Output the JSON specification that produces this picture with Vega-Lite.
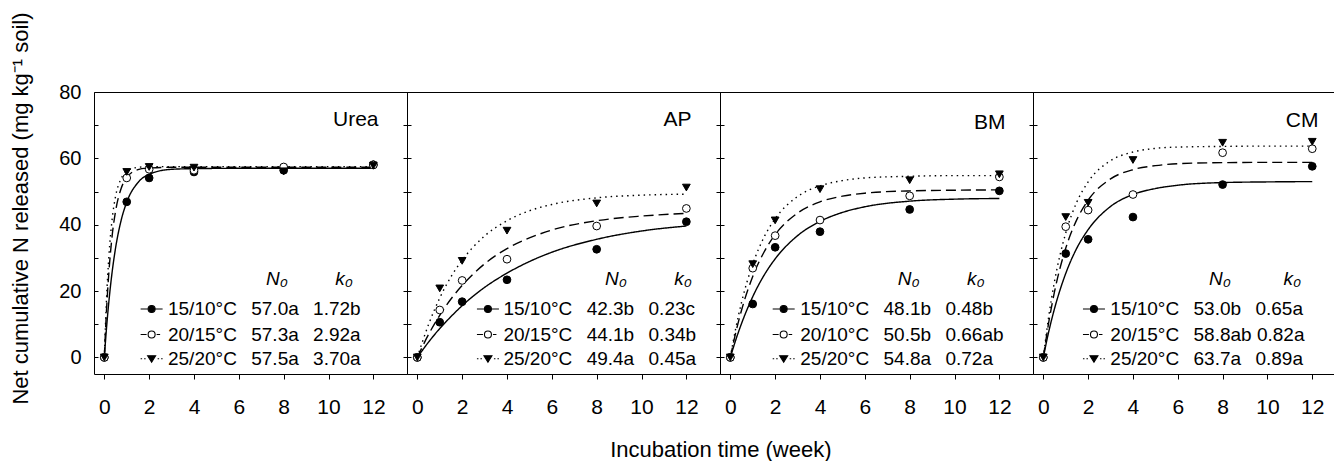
{
  "$schema": "https://vega.github.io/schema/vega-lite/v6.json",
  "padding": {"left": 9, "top": 11, "right": 0, "bottom": 0},
  "background": "white",
  "title": {"text": "Incubation time (week)", "orient": "bottom", "anchor": "middle", "frame": "bounds", "fontSize": 22, "fontWeight": "normal", "font": "Liberation Sans", "color": "black", "baseline": "top", "offset": 22, "dx": 49},
  "datasets": {
    "points": [
      {"panel": "Urea", "temp": "15/10", "t": 0, "N": 0}, {"panel": "Urea", "temp": "15/10", "t": 1, "N": 46.9}, {"panel": "Urea", "temp": "15/10", "t": 2, "N": 54.1}, {"panel": "Urea", "temp": "15/10", "t": 4, "N": 55.9}, {"panel": "Urea", "temp": "15/10", "t": 8, "N": 56.4}, {"panel": "Urea", "temp": "15/10", "t": 12, "N": 58.1},
      {"panel": "Urea", "temp": "20/15", "t": 0, "N": 0}, {"panel": "Urea", "temp": "20/15", "t": 1, "N": 54.1}, {"panel": "Urea", "temp": "20/15", "t": 2, "N": 56.7}, {"panel": "Urea", "temp": "20/15", "t": 4, "N": 56.4}, {"panel": "Urea", "temp": "20/15", "t": 8, "N": 57.4}, {"panel": "Urea", "temp": "20/15", "t": 12, "N": 58.0},
      {"panel": "Urea", "temp": "25/20", "t": 0, "N": 0}, {"panel": "Urea", "temp": "25/20", "t": 1, "N": 55.9}, {"panel": "Urea", "temp": "25/20", "t": 2, "N": 57.4}, {"panel": "Urea", "temp": "25/20", "t": 4, "N": 57.2}, {"panel": "Urea", "temp": "25/20", "t": 8, "N": 56.1}, {"panel": "Urea", "temp": "25/20", "t": 12, "N": 57.8},
      {"panel": "AP", "temp": "15/10", "t": 0, "N": 0}, {"panel": "AP", "temp": "15/10", "t": 1, "N": 10.6}, {"panel": "AP", "temp": "15/10", "t": 2, "N": 16.8}, {"panel": "AP", "temp": "15/10", "t": 4, "N": 23.4}, {"panel": "AP", "temp": "15/10", "t": 8, "N": 32.6}, {"panel": "AP", "temp": "15/10", "t": 12, "N": 40.9},
      {"panel": "AP", "temp": "20/15", "t": 0, "N": 0}, {"panel": "AP", "temp": "20/15", "t": 1, "N": 14.3}, {"panel": "AP", "temp": "20/15", "t": 2, "N": 23.2}, {"panel": "AP", "temp": "20/15", "t": 4, "N": 29.6}, {"panel": "AP", "temp": "20/15", "t": 8, "N": 39.6}, {"panel": "AP", "temp": "20/15", "t": 12, "N": 44.9},
      {"panel": "AP", "temp": "25/20", "t": 0, "N": 0}, {"panel": "AP", "temp": "25/20", "t": 1, "N": 20.8}, {"panel": "AP", "temp": "25/20", "t": 2, "N": 29.1}, {"panel": "AP", "temp": "25/20", "t": 4, "N": 38.2}, {"panel": "AP", "temp": "25/20", "t": 8, "N": 46.4}, {"panel": "AP", "temp": "25/20", "t": 12, "N": 51.2},
      {"panel": "BM", "temp": "15/10", "t": 0, "N": 0}, {"panel": "BM", "temp": "15/10", "t": 1, "N": 16.1}, {"panel": "BM", "temp": "15/10", "t": 2, "N": 33.2}, {"panel": "BM", "temp": "15/10", "t": 4, "N": 37.9}, {"panel": "BM", "temp": "15/10", "t": 8, "N": 44.6}, {"panel": "BM", "temp": "15/10", "t": 12, "N": 50.2},
      {"panel": "BM", "temp": "20/15", "t": 0, "N": 0}, {"panel": "BM", "temp": "20/15", "t": 1, "N": 26.9}, {"panel": "BM", "temp": "20/15", "t": 2, "N": 36.7}, {"panel": "BM", "temp": "20/15", "t": 4, "N": 41.4}, {"panel": "BM", "temp": "20/15", "t": 8, "N": 48.7}, {"panel": "BM", "temp": "20/15", "t": 12, "N": 54.4},
      {"panel": "BM", "temp": "25/20", "t": 0, "N": 0}, {"panel": "BM", "temp": "25/20", "t": 1, "N": 28.1}, {"panel": "BM", "temp": "25/20", "t": 2, "N": 41.3}, {"panel": "BM", "temp": "25/20", "t": 4, "N": 50.7}, {"panel": "BM", "temp": "25/20", "t": 8, "N": 53.4}, {"panel": "BM", "temp": "25/20", "t": 12, "N": 55.2},
      {"panel": "CM", "temp": "15/10", "t": 0, "N": 0}, {"panel": "CM", "temp": "15/10", "t": 1, "N": 31.3}, {"panel": "CM", "temp": "15/10", "t": 2, "N": 35.6}, {"panel": "CM", "temp": "15/10", "t": 4, "N": 42.3}, {"panel": "CM", "temp": "15/10", "t": 8, "N": 52.1}, {"panel": "CM", "temp": "15/10", "t": 12, "N": 57.6},
      {"panel": "CM", "temp": "20/15", "t": 0, "N": 0}, {"panel": "CM", "temp": "20/15", "t": 1, "N": 39.4}, {"panel": "CM", "temp": "20/15", "t": 2, "N": 44.4}, {"panel": "CM", "temp": "20/15", "t": 4, "N": 49.1}, {"panel": "CM", "temp": "20/15", "t": 8, "N": 61.7}, {"panel": "CM", "temp": "20/15", "t": 12, "N": 62.9},
      {"panel": "CM", "temp": "25/20", "t": 0, "N": 0}, {"panel": "CM", "temp": "25/20", "t": 1, "N": 42.3}, {"panel": "CM", "temp": "25/20", "t": 2, "N": 46.6}, {"panel": "CM", "temp": "25/20", "t": 4, "N": 59.5}, {"panel": "CM", "temp": "25/20", "t": 8, "N": 64.7}, {"panel": "CM", "temp": "25/20", "t": 12, "N": 65.0}
    ],
    "curves": [
      {"panel": "Urea", "temp": "15/10", "t": 0, "N": 0}, {"panel": "Urea", "temp": "15/10", "t": 0.1, "N": 9.0}, {"panel": "Urea", "temp": "15/10", "t": 0.2, "N": 16.6}, {"panel": "Urea", "temp": "15/10", "t": 0.35, "N": 25.8}, {"panel": "Urea", "temp": "15/10", "t": 0.5, "N": 32.9}, {"panel": "Urea", "temp": "15/10", "t": 0.75, "N": 41.3}, {"panel": "Urea", "temp": "15/10", "t": 1, "N": 46.8}, {"panel": "Urea", "temp": "15/10", "t": 1.5, "N": 52.7}, {"panel": "Urea", "temp": "15/10", "t": 2, "N": 55.2}, {"panel": "Urea", "temp": "15/10", "t": 3, "N": 56.7}, {"panel": "Urea", "temp": "15/10", "t": 4, "N": 56.9}, {"panel": "Urea", "temp": "15/10", "t": 6, "N": 57.0}, {"panel": "Urea", "temp": "15/10", "t": 12, "N": 57.0},
      {"panel": "Urea", "temp": "20/15", "t": 0, "N": 0}, {"panel": "Urea", "temp": "20/15", "t": 0.1, "N": 14.5}, {"panel": "Urea", "temp": "20/15", "t": 0.2, "N": 25.3}, {"panel": "Urea", "temp": "20/15", "t": 0.35, "N": 36.7}, {"panel": "Urea", "temp": "20/15", "t": 0.5, "N": 44.0}, {"panel": "Urea", "temp": "20/15", "t": 0.75, "N": 50.9}, {"panel": "Urea", "temp": "20/15", "t": 1, "N": 54.2}, {"panel": "Urea", "temp": "20/15", "t": 1.5, "N": 56.6}, {"panel": "Urea", "temp": "20/15", "t": 2, "N": 57.1}, {"panel": "Urea", "temp": "20/15", "t": 3, "N": 57.3}, {"panel": "Urea", "temp": "20/15", "t": 12, "N": 57.3},
      {"panel": "Urea", "temp": "25/20", "t": 0, "N": 0}, {"panel": "Urea", "temp": "25/20", "t": 0.1, "N": 17.8}, {"panel": "Urea", "temp": "25/20", "t": 0.2, "N": 30.1}, {"panel": "Urea", "temp": "25/20", "t": 0.35, "N": 41.7}, {"panel": "Urea", "temp": "25/20", "t": 0.5, "N": 48.5}, {"panel": "Urea", "temp": "25/20", "t": 0.75, "N": 53.9}, {"panel": "Urea", "temp": "25/20", "t": 1, "N": 56.1}, {"panel": "Urea", "temp": "25/20", "t": 1.5, "N": 57.3}, {"panel": "Urea", "temp": "25/20", "t": 2, "N": 57.5}, {"panel": "Urea", "temp": "25/20", "t": 12, "N": 57.5},
      {"panel": "AP", "temp": "15/10", "t": 0, "N": 0}, {"panel": "AP", "temp": "15/10", "t": 0.5, "N": 4.6}, {"panel": "AP", "temp": "15/10", "t": 1, "N": 8.7}, {"panel": "AP", "temp": "15/10", "t": 1.5, "N": 12.3}, {"panel": "AP", "temp": "15/10", "t": 2, "N": 15.6}, {"panel": "AP", "temp": "15/10", "t": 3, "N": 21.1}, {"panel": "AP", "temp": "15/10", "t": 4, "N": 25.4}, {"panel": "AP", "temp": "15/10", "t": 5, "N": 28.9}, {"panel": "AP", "temp": "15/10", "t": 6, "N": 31.7}, {"panel": "AP", "temp": "15/10", "t": 8, "N": 35.6}, {"panel": "AP", "temp": "15/10", "t": 10, "N": 38.1}, {"panel": "AP", "temp": "15/10", "t": 12, "N": 39.6},
      {"panel": "AP", "temp": "20/15", "t": 0, "N": 0}, {"panel": "AP", "temp": "20/15", "t": 0.5, "N": 6.9}, {"panel": "AP", "temp": "20/15", "t": 1, "N": 12.7}, {"panel": "AP", "temp": "20/15", "t": 1.5, "N": 17.6}, {"panel": "AP", "temp": "20/15", "t": 2, "N": 21.7}, {"panel": "AP", "temp": "20/15", "t": 3, "N": 28.2}, {"panel": "AP", "temp": "20/15", "t": 4, "N": 32.8}, {"panel": "AP", "temp": "20/15", "t": 5, "N": 36.0}, {"panel": "AP", "temp": "20/15", "t": 6, "N": 38.4}, {"panel": "AP", "temp": "20/15", "t": 8, "N": 41.2}, {"panel": "AP", "temp": "20/15", "t": 10, "N": 42.6}, {"panel": "AP", "temp": "20/15", "t": 12, "N": 43.4},
      {"panel": "AP", "temp": "25/20", "t": 0, "N": 0}, {"panel": "AP", "temp": "25/20", "t": 0.5, "N": 9.9}, {"panel": "AP", "temp": "25/20", "t": 1, "N": 17.9}, {"panel": "AP", "temp": "25/20", "t": 1.5, "N": 24.3}, {"panel": "AP", "temp": "25/20", "t": 2, "N": 29.3}, {"panel": "AP", "temp": "25/20", "t": 3, "N": 36.6}, {"panel": "AP", "temp": "25/20", "t": 4, "N": 41.2}, {"panel": "AP", "temp": "25/20", "t": 5, "N": 44.2}, {"panel": "AP", "temp": "25/20", "t": 6, "N": 46.1}, {"panel": "AP", "temp": "25/20", "t": 8, "N": 48.1}, {"panel": "AP", "temp": "25/20", "t": 10, "N": 48.9}, {"panel": "AP", "temp": "25/20", "t": 12, "N": 49.2},
      {"panel": "BM", "temp": "15/10", "t": 0, "N": 0}, {"panel": "BM", "temp": "15/10", "t": 0.25, "N": 5.4}, {"panel": "BM", "temp": "15/10", "t": 0.5, "N": 10.2}, {"panel": "BM", "temp": "15/10", "t": 1, "N": 18.3}, {"panel": "BM", "temp": "15/10", "t": 1.5, "N": 24.7}, {"panel": "BM", "temp": "15/10", "t": 2, "N": 29.7}, {"panel": "BM", "temp": "15/10", "t": 3, "N": 36.7}, {"panel": "BM", "temp": "15/10", "t": 4, "N": 41.0}, {"panel": "BM", "temp": "15/10", "t": 5, "N": 43.7}, {"panel": "BM", "temp": "15/10", "t": 6, "N": 45.4}, {"panel": "BM", "temp": "15/10", "t": 8, "N": 47.1}, {"panel": "BM", "temp": "15/10", "t": 10, "N": 47.7}, {"panel": "BM", "temp": "15/10", "t": 12, "N": 47.9},
      {"panel": "BM", "temp": "20/15", "t": 0, "N": 0}, {"panel": "BM", "temp": "20/15", "t": 0.25, "N": 7.7}, {"panel": "BM", "temp": "20/15", "t": 0.5, "N": 14.2}, {"panel": "BM", "temp": "20/15", "t": 1, "N": 24.4}, {"panel": "BM", "temp": "20/15", "t": 1.5, "N": 31.7}, {"panel": "BM", "temp": "20/15", "t": 2, "N": 37.0}, {"panel": "BM", "temp": "20/15", "t": 3, "N": 43.5}, {"panel": "BM", "temp": "20/15", "t": 4, "N": 46.9}, {"panel": "BM", "temp": "20/15", "t": 5, "N": 48.6}, {"panel": "BM", "temp": "20/15", "t": 6, "N": 49.5}, {"panel": "BM", "temp": "20/15", "t": 8, "N": 50.2}, {"panel": "BM", "temp": "20/15", "t": 10, "N": 50.4}, {"panel": "BM", "temp": "20/15", "t": 12, "N": 50.5},
      {"panel": "BM", "temp": "25/20", "t": 0, "N": 0}, {"panel": "BM", "temp": "25/20", "t": 0.25, "N": 9.0}, {"panel": "BM", "temp": "25/20", "t": 0.5, "N": 16.6}, {"panel": "BM", "temp": "25/20", "t": 1, "N": 28.1}, {"panel": "BM", "temp": "25/20", "t": 1.5, "N": 36.2}, {"panel": "BM", "temp": "25/20", "t": 2, "N": 41.8}, {"panel": "BM", "temp": "25/20", "t": 3, "N": 48.5}, {"panel": "BM", "temp": "25/20", "t": 4, "N": 51.7}, {"panel": "BM", "temp": "25/20", "t": 5, "N": 53.3}, {"panel": "BM", "temp": "25/20", "t": 6, "N": 54.1}, {"panel": "BM", "temp": "25/20", "t": 8, "N": 54.6}, {"panel": "BM", "temp": "25/20", "t": 10, "N": 54.8}, {"panel": "BM", "temp": "25/20", "t": 12, "N": 54.8},
      {"panel": "CM", "temp": "15/10", "t": 0, "N": 0}, {"panel": "CM", "temp": "15/10", "t": 0.25, "N": 8.0}, {"panel": "CM", "temp": "15/10", "t": 0.5, "N": 14.7}, {"panel": "CM", "temp": "15/10", "t": 1, "N": 25.3}, {"panel": "CM", "temp": "15/10", "t": 1.5, "N": 33.0}, {"panel": "CM", "temp": "15/10", "t": 2, "N": 38.5}, {"panel": "CM", "temp": "15/10", "t": 3, "N": 45.5}, {"panel": "CM", "temp": "15/10", "t": 4, "N": 49.1}, {"panel": "CM", "temp": "15/10", "t": 5, "N": 50.9}, {"panel": "CM", "temp": "15/10", "t": 6, "N": 51.9}, {"panel": "CM", "temp": "15/10", "t": 8, "N": 52.7}, {"panel": "CM", "temp": "15/10", "t": 10, "N": 52.9}, {"panel": "CM", "temp": "15/10", "t": 12, "N": 53.0},
      {"panel": "CM", "temp": "20/15", "t": 0, "N": 0}, {"panel": "CM", "temp": "20/15", "t": 0.25, "N": 10.9}, {"panel": "CM", "temp": "20/15", "t": 0.5, "N": 19.8}, {"panel": "CM", "temp": "20/15", "t": 1, "N": 32.9}, {"panel": "CM", "temp": "20/15", "t": 1.5, "N": 41.6}, {"panel": "CM", "temp": "20/15", "t": 2, "N": 47.4}, {"panel": "CM", "temp": "20/15", "t": 3, "N": 53.8}, {"panel": "CM", "temp": "20/15", "t": 4, "N": 56.6}, {"panel": "CM", "temp": "20/15", "t": 5, "N": 57.8}, {"panel": "CM", "temp": "20/15", "t": 6, "N": 58.4}, {"panel": "CM", "temp": "20/15", "t": 8, "N": 58.7}, {"panel": "CM", "temp": "20/15", "t": 10, "N": 58.8}, {"panel": "CM", "temp": "20/15", "t": 12, "N": 58.8},
      {"panel": "CM", "temp": "25/20", "t": 0, "N": 0}, {"panel": "CM", "temp": "25/20", "t": 0.25, "N": 12.7}, {"panel": "CM", "temp": "25/20", "t": 0.5, "N": 22.9}, {"panel": "CM", "temp": "25/20", "t": 1, "N": 37.5}, {"panel": "CM", "temp": "25/20", "t": 1.5, "N": 46.9}, {"panel": "CM", "temp": "25/20", "t": 2, "N": 52.9}, {"panel": "CM", "temp": "25/20", "t": 3, "N": 59.3}, {"panel": "CM", "temp": "25/20", "t": 4, "N": 61.9}, {"panel": "CM", "temp": "25/20", "t": 5, "N": 63.0}, {"panel": "CM", "temp": "25/20", "t": 6, "N": 63.4}, {"panel": "CM", "temp": "25/20", "t": 8, "N": 63.6}, {"panel": "CM", "temp": "25/20", "t": 10, "N": 63.7}, {"panel": "CM", "temp": "25/20", "t": 12, "N": 63.7}
    ],
    "legend": [
      {"panel": "Urea", "temp": "15/10", "entry": "15/10°C\u00a0\u00a0\u200957.0a\u00a0\u00a0\u20091.72b"},
      {"panel": "Urea", "temp": "20/15", "entry": "20/15°C\u00a0\u00a0\u200957.3a\u00a0\u00a0\u20092.92a"},
      {"panel": "Urea", "temp": "25/20", "entry": "25/20°C\u00a0\u00a0\u200957.5a\u00a0\u00a0\u20093.70a"},
      {"panel": "AP", "temp": "15/10", "entry": "15/10°C\u00a0\u00a0\u200942.3b\u00a0\u00a0\u20090.23c"},
      {"panel": "AP", "temp": "20/15", "entry": "20/15°C\u00a0\u00a0\u200944.1b\u00a0\u00a0\u20090.34b"},
      {"panel": "AP", "temp": "25/20", "entry": "25/20°C\u00a0\u00a0\u200949.4a\u00a0\u00a0\u20090.45a"},
      {"panel": "BM", "temp": "15/10", "entry": "15/10°C\u00a0\u00a0\u200948.1b\u00a0\u00a0\u20090.48b"},
      {"panel": "BM", "temp": "20/15", "entry": "20/10°C\u00a0\u00a0\u200950.5b\u00a0\u00a0\u20090.66ab"},
      {"panel": "BM", "temp": "25/20", "entry": "25/20°C\u00a0\u00a0\u200954.8a\u00a0\u00a0\u20090.72a"},
      {"panel": "CM", "temp": "15/10", "entry": "15/10°C\u00a0\u00a0\u200953.0b\u00a0\u00a0\u20090.65a"},
      {"panel": "CM", "temp": "20/15", "entry": "20/15°C\u00a0\u00a0\u200958.8ab\u00a00.82a"},
      {"panel": "CM", "temp": "25/20", "entry": "25/20°C\u00a0\u00a0\u200963.7a\u00a0\u00a0\u20090.89a"}
    ]
  },
  "hconcat": [
    {
      "width": 313, "height": 282,
      "resolve": {"axis": {"x": "independent", "y": "independent"}},
      "layer": [
        {
          "data": {"name": "curves"},
          "transform": [{"filter": "datum.panel === 'Urea'"}],
          "mark": {"type": "line", "color": "black", "strokeWidth": 1.4, "interpolate": "monotone"},
          "encoding": {
            "x": {"field": "t", "type": "quantitative", "scale": {"domain": [-0.46, 13.5], "nice": false, "zero": false}, "axis": {"orient": "top", "labels": false, "ticks": false, "title": "Urea", "titleX": 284, "titleY": 33, "titleAlign": "right", "titleBaseline": "alphabetic", "titleFontSize": 21}},
            "y": {"field": "N", "type": "quantitative", "scale": {"domain": [-5, 80], "nice": false, "zero": false}, "axis": {"orient": "right", "values": [0, 10, 20, 30, 40, 50, 60, 70, 80], "labels": false, "tickSize": 4, "offset": -4, "title": null}},
            "strokeDash": {"field": "temp", "type": "nominal", "scale": {"domain": ["15/10", "20/15", "25/20"], "range": [[1, 0], [10, 5], [1.5, 4]]}, "legend": null}
          }
        },
        {
          "data": {"name": "points"},
          "transform": [{"filter": "datum.panel === 'Urea'"}],
          "mark": {"type": "point", "filled": true, "stroke": "black", "strokeWidth": 1, "opacity": 1},
          "encoding": {
            "x": {"field": "t", "type": "quantitative", "axis": {"orient": "bottom", "values": [0, 2, 4, 6, 8, 10, 12], "title": null, "tickSize": 5, "labelFontSize": 21, "labelPadding": 17, "labelFlush": false, "labelOverlap": false}},
            "y": {"field": "N", "type": "quantitative", "axis": {"orient": "left", "values": [0, 10, 20, 30, 40, 50, 60, 70, 80], "labelExpr": "datum.value % 20 === 0 ? datum.label : ''", "tickSize": 4, "offset": -4, "labelPadding": 13, "labelFontSize": 20, "title": "Net cumulative N released (mg kg\u207b\u00b9 soil)", "titleFontSize": 22, "titlePadding": 26, "titleY": 116}},
            "size": {"field": "temp", "type": "nominal", "scale": {"domain": ["15/10", "20/15", "25/20"], "range": [60, 60, 85]}, "legend": null},
            "shape": {"field": "temp", "type": "nominal", "scale": {"domain": ["15/10", "20/15", "25/20"], "range": ["circle", "circle", "triangle-down"]}, "legend": null},
            "fill": {"field": "temp", "type": "nominal", "scale": {"domain": ["15/10", "20/15", "25/20"], "range": ["black", "white", "black"]}, "legend": null}
          }
        },
        {"data": {"name": "legend"}, "transform": [{"filter": "datum.panel === 'Urea' && datum.temp === '15/10'"}], "mark": {"type": "text", "text": "N\u2080\u00a0\u00a0\u00a0\u00a0\u00a0\u00a0\u00a0\u00a0\u00a0k\u2080", "fontStyle": "italic", "align": "left", "baseline": "middle", "fontSize": 19, "color": "black"}, "encoding": {"x": {"datum": 7.21, "type": "quantitative", "axis": null}, "y": {"datum": 23.6, "type": "quantitative", "axis": null}}},
        {"data": {"name": "legend"}, "transform": [{"filter": "datum.panel === 'Urea' && datum.temp === '15/10'"}], "mark": {"type": "point", "shape": "M-1.1,0H-0.35M0.35,0H1.1M-0.35,0A0.35,0.35,0,1,1,0.35,0A0.35,0.35,0,1,1,-0.35,0Z", "size": 400, "filled": true, "fill": "black", "stroke": "black", "strokeWidth": 1.1, "opacity": 1}, "encoding": {"x": {"datum": 2.11, "type": "quantitative", "axis": null}, "y": {"datum": 14.6, "type": "quantitative", "axis": null}}},
        {"data": {"name": "legend"}, "transform": [{"filter": "datum.panel === 'Urea' && datum.temp === '20/15'"}], "mark": {"type": "point", "shape": "M-1.1,0H-0.5M0.5,0H0.85M-0.35,0A0.35,0.35,0,1,1,0.35,0A0.35,0.35,0,1,1,-0.35,0Z", "size": 400, "filled": true, "fill": "white", "stroke": "black", "strokeWidth": 1.1, "opacity": 1}, "encoding": {"x": {"datum": 2.11, "type": "quantitative", "axis": null}, "y": {"datum": 6.9, "type": "quantitative", "axis": null}}},
        {"data": {"name": "legend"}, "transform": [{"filter": "datum.panel === 'Urea' && datum.temp === '25/20'"}], "mark": {"type": "point", "shape": "M-1.1,0H-0.95M-0.75,0H-0.6M0.6,0H0.75M0.95,0H1.1M-0.4,-0.3L0.4,-0.3L0,0.35Z", "size": 400, "filled": true, "fill": "black", "stroke": "black", "strokeWidth": 1.1, "opacity": 1}, "encoding": {"x": {"datum": 2.11, "type": "quantitative", "axis": null}, "y": {"datum": -0.4, "type": "quantitative", "axis": null}}},
        {"data": {"name": "legend"}, "transform": [{"filter": "datum.panel === 'Urea' && datum.temp === '15/10'"}], "mark": {"type": "text", "align": "left", "baseline": "middle", "fontSize": 19, "color": "black"}, "encoding": {"x": {"datum": 2.84, "type": "quantitative", "axis": null}, "y": {"datum": 14.6, "type": "quantitative", "axis": null}, "text": {"field": "entry"}}},
        {"data": {"name": "legend"}, "transform": [{"filter": "datum.panel === 'Urea' && datum.temp === '20/15'"}], "mark": {"type": "text", "align": "left", "baseline": "middle", "fontSize": 19, "color": "black"}, "encoding": {"x": {"datum": 2.84, "type": "quantitative", "axis": null}, "y": {"datum": 6.9, "type": "quantitative", "axis": null}, "text": {"field": "entry"}}},
        {"data": {"name": "legend"}, "transform": [{"filter": "datum.panel === 'Urea' && datum.temp === '25/20'"}], "mark": {"type": "text", "align": "left", "baseline": "middle", "fontSize": 19, "color": "black"}, "encoding": {"x": {"datum": 2.84, "type": "quantitative", "axis": null}, "y": {"datum": -0.4, "type": "quantitative", "axis": null}, "text": {"field": "entry"}}}
      ]
    },
    {
      "width": 313, "height": 282,
      "resolve": {"axis": {"x": "independent", "y": "independent"}},
      "layer": [
        {
          "data": {"name": "curves"},
          "transform": [{"filter": "datum.panel === 'AP'"}],
          "mark": {"type": "line", "color": "black", "strokeWidth": 1.4, "interpolate": "monotone"},
          "encoding": {
            "x": {"field": "t", "type": "quantitative", "scale": {"domain": [-0.46, 13.5], "nice": false, "zero": false}, "axis": {"orient": "top", "labels": false, "ticks": false, "title": "AP", "titleX": 284, "titleY": 33, "titleAlign": "right", "titleBaseline": "alphabetic", "titleFontSize": 21}},
            "y": {"field": "N", "type": "quantitative", "scale": {"domain": [-5, 80], "nice": false, "zero": false}, "axis": {"orient": "right", "values": [0, 10, 20, 30, 40, 50, 60, 70, 80], "labels": false, "tickSize": 4, "offset": -4, "title": null}},
            "strokeDash": {"field": "temp", "type": "nominal", "scale": {"domain": ["15/10", "20/15", "25/20"], "range": [[1, 0], [10, 5], [1.5, 4]]}, "legend": null}
          }
        },
        {
          "data": {"name": "points"},
          "transform": [{"filter": "datum.panel === 'AP'"}],
          "mark": {"type": "point", "filled": true, "stroke": "black", "strokeWidth": 1, "opacity": 1},
          "encoding": {
            "x": {"field": "t", "type": "quantitative", "axis": {"orient": "bottom", "values": [0, 2, 4, 6, 8, 10, 12], "title": null, "tickSize": 5, "labelFontSize": 21, "labelPadding": 17, "labelFlush": false, "labelOverlap": false}},
            "y": {"field": "N", "type": "quantitative", "axis": {"orient": "left", "values": [0, 10, 20, 30, 40, 50, 60, 70, 80], "labels": false, "tickSize": 4, "offset": -4, "title": null}},
            "size": {"field": "temp", "type": "nominal", "scale": {"domain": ["15/10", "20/15", "25/20"], "range": [60, 60, 85]}, "legend": null},
            "shape": {"field": "temp", "type": "nominal", "scale": {"domain": ["15/10", "20/15", "25/20"], "range": ["circle", "circle", "triangle-down"]}, "legend": null},
            "fill": {"field": "temp", "type": "nominal", "scale": {"domain": ["15/10", "20/15", "25/20"], "range": ["black", "white", "black"]}, "legend": null}
          }
        },
        {"data": {"name": "legend"}, "transform": [{"filter": "datum.panel === 'AP' && datum.temp === '15/10'"}], "mark": {"type": "text", "text": "N\u2080\u00a0\u00a0\u00a0\u00a0\u00a0\u00a0\u00a0\u00a0\u00a0k\u2080", "fontStyle": "italic", "align": "left", "baseline": "middle", "fontSize": 19, "color": "black"}, "encoding": {"x": {"datum": 8.37, "type": "quantitative", "axis": null}, "y": {"datum": 23.6, "type": "quantitative", "axis": null}}},
        {"data": {"name": "legend"}, "transform": [{"filter": "datum.panel === 'AP' && datum.temp === '15/10'"}], "mark": {"type": "point", "shape": "M-1.1,0H-0.35M0.35,0H1.1M-0.35,0A0.35,0.35,0,1,1,0.35,0A0.35,0.35,0,1,1,-0.35,0Z", "size": 400, "filled": true, "fill": "black", "stroke": "black", "strokeWidth": 1.1, "opacity": 1}, "encoding": {"x": {"datum": 3.15, "type": "quantitative", "axis": null}, "y": {"datum": 14.6, "type": "quantitative", "axis": null}}},
        {"data": {"name": "legend"}, "transform": [{"filter": "datum.panel === 'AP' && datum.temp === '20/15'"}], "mark": {"type": "point", "shape": "M-1.1,0H-0.5M0.5,0H0.85M-0.35,0A0.35,0.35,0,1,1,0.35,0A0.35,0.35,0,1,1,-0.35,0Z", "size": 400, "filled": true, "fill": "white", "stroke": "black", "strokeWidth": 1.1, "opacity": 1}, "encoding": {"x": {"datum": 3.15, "type": "quantitative", "axis": null}, "y": {"datum": 6.9, "type": "quantitative", "axis": null}}},
        {"data": {"name": "legend"}, "transform": [{"filter": "datum.panel === 'AP' && datum.temp === '25/20'"}], "mark": {"type": "point", "shape": "M-1.1,0H-0.95M-0.75,0H-0.6M0.6,0H0.75M0.95,0H1.1M-0.4,-0.3L0.4,-0.3L0,0.35Z", "size": 400, "filled": true, "fill": "black", "stroke": "black", "strokeWidth": 1.1, "opacity": 1}, "encoding": {"x": {"datum": 3.15, "type": "quantitative", "axis": null}, "y": {"datum": -0.4, "type": "quantitative", "axis": null}}},
        {"data": {"name": "legend"}, "transform": [{"filter": "datum.panel === 'AP' && datum.temp === '15/10'"}], "mark": {"type": "text", "align": "left", "baseline": "middle", "fontSize": 19, "color": "black"}, "encoding": {"x": {"datum": 3.84, "type": "quantitative", "axis": null}, "y": {"datum": 14.6, "type": "quantitative", "axis": null}, "text": {"field": "entry"}}},
        {"data": {"name": "legend"}, "transform": [{"filter": "datum.panel === 'AP' && datum.temp === '20/15'"}], "mark": {"type": "text", "align": "left", "baseline": "middle", "fontSize": 19, "color": "black"}, "encoding": {"x": {"datum": 3.84, "type": "quantitative", "axis": null}, "y": {"datum": 6.9, "type": "quantitative", "axis": null}, "text": {"field": "entry"}}},
        {"data": {"name": "legend"}, "transform": [{"filter": "datum.panel === 'AP' && datum.temp === '25/20'"}], "mark": {"type": "text", "align": "left", "baseline": "middle", "fontSize": 19, "color": "black"}, "encoding": {"x": {"datum": 3.84, "type": "quantitative", "axis": null}, "y": {"datum": -0.4, "type": "quantitative", "axis": null}, "text": {"field": "entry"}}}
      ]
    },
    {
      "width": 313, "height": 282,
      "resolve": {"axis": {"x": "independent", "y": "independent"}},
      "layer": [
        {
          "data": {"name": "curves"},
          "transform": [{"filter": "datum.panel === 'BM'"}],
          "mark": {"type": "line", "color": "black", "strokeWidth": 1.4, "interpolate": "monotone"},
          "encoding": {
            "x": {"field": "t", "type": "quantitative", "scale": {"domain": [-0.46, 13.5], "nice": false, "zero": false}, "axis": {"orient": "top", "labels": false, "ticks": false, "title": "BM", "titleX": 285, "titleY": 36, "titleAlign": "right", "titleBaseline": "alphabetic", "titleFontSize": 21}},
            "y": {"field": "N", "type": "quantitative", "scale": {"domain": [-5, 80], "nice": false, "zero": false}, "axis": {"orient": "right", "values": [0, 10, 20, 30, 40, 50, 60, 70, 80], "labels": false, "tickSize": 4, "offset": -4, "title": null}},
            "strokeDash": {"field": "temp", "type": "nominal", "scale": {"domain": ["15/10", "20/15", "25/20"], "range": [[1, 0], [10, 5], [1.5, 4]]}, "legend": null}
          }
        },
        {
          "data": {"name": "points"},
          "transform": [{"filter": "datum.panel === 'BM'"}],
          "mark": {"type": "point", "filled": true, "stroke": "black", "strokeWidth": 1, "opacity": 1},
          "encoding": {
            "x": {"field": "t", "type": "quantitative", "axis": {"orient": "bottom", "values": [0, 2, 4, 6, 8, 10, 12], "title": null, "tickSize": 5, "labelFontSize": 21, "labelPadding": 17, "labelFlush": false, "labelOverlap": false}},
            "y": {"field": "N", "type": "quantitative", "axis": {"orient": "left", "values": [0, 10, 20, 30, 40, 50, 60, 70, 80], "labels": false, "tickSize": 4, "offset": -4, "title": null}},
            "size": {"field": "temp", "type": "nominal", "scale": {"domain": ["15/10", "20/15", "25/20"], "range": [60, 60, 85]}, "legend": null},
            "shape": {"field": "temp", "type": "nominal", "scale": {"domain": ["15/10", "20/15", "25/20"], "range": ["circle", "circle", "triangle-down"]}, "legend": null},
            "fill": {"field": "temp", "type": "nominal", "scale": {"domain": ["15/10", "20/15", "25/20"], "range": ["black", "white", "black"]}, "legend": null}
          }
        },
        {"data": {"name": "legend"}, "transform": [{"filter": "datum.panel === 'BM' && datum.temp === '15/10'"}], "mark": {"type": "text", "text": "N\u2080\u00a0\u00a0\u00a0\u00a0\u00a0\u00a0\u00a0\u00a0\u00a0k\u2080", "fontStyle": "italic", "align": "left", "baseline": "middle", "fontSize": 19, "color": "black"}, "encoding": {"x": {"datum": 7.47, "type": "quantitative", "axis": null}, "y": {"datum": 23.6, "type": "quantitative", "axis": null}}},
        {"data": {"name": "legend"}, "transform": [{"filter": "datum.panel === 'BM' && datum.temp === '15/10'"}], "mark": {"type": "point", "shape": "M-1.1,0H-0.35M0.35,0H1.1M-0.35,0A0.35,0.35,0,1,1,0.35,0A0.35,0.35,0,1,1,-0.35,0Z", "size": 400, "filled": true, "fill": "black", "stroke": "black", "strokeWidth": 1.1, "opacity": 1}, "encoding": {"x": {"datum": 2.38, "type": "quantitative", "axis": null}, "y": {"datum": 14.6, "type": "quantitative", "axis": null}}},
        {"data": {"name": "legend"}, "transform": [{"filter": "datum.panel === 'BM' && datum.temp === '20/15'"}], "mark": {"type": "point", "shape": "M-1.1,0H-0.5M0.5,0H0.85M-0.35,0A0.35,0.35,0,1,1,0.35,0A0.35,0.35,0,1,1,-0.35,0Z", "size": 400, "filled": true, "fill": "white", "stroke": "black", "strokeWidth": 1.1, "opacity": 1}, "encoding": {"x": {"datum": 2.38, "type": "quantitative", "axis": null}, "y": {"datum": 6.9, "type": "quantitative", "axis": null}}},
        {"data": {"name": "legend"}, "transform": [{"filter": "datum.panel === 'BM' && datum.temp === '25/20'"}], "mark": {"type": "point", "shape": "M-1.1,0H-0.95M-0.75,0H-0.6M0.6,0H0.75M0.95,0H1.1M-0.4,-0.3L0.4,-0.3L0,0.35Z", "size": 400, "filled": true, "fill": "black", "stroke": "black", "strokeWidth": 1.1, "opacity": 1}, "encoding": {"x": {"datum": 2.38, "type": "quantitative", "axis": null}, "y": {"datum": -0.4, "type": "quantitative", "axis": null}}},
        {"data": {"name": "legend"}, "transform": [{"filter": "datum.panel === 'BM' && datum.temp === '15/10'"}], "mark": {"type": "text", "align": "left", "baseline": "middle", "fontSize": 19, "color": "black"}, "encoding": {"x": {"datum": 3.12, "type": "quantitative", "axis": null}, "y": {"datum": 14.6, "type": "quantitative", "axis": null}, "text": {"field": "entry"}}},
        {"data": {"name": "legend"}, "transform": [{"filter": "datum.panel === 'BM' && datum.temp === '20/15'"}], "mark": {"type": "text", "align": "left", "baseline": "middle", "fontSize": 19, "color": "black"}, "encoding": {"x": {"datum": 3.12, "type": "quantitative", "axis": null}, "y": {"datum": 6.9, "type": "quantitative", "axis": null}, "text": {"field": "entry"}}},
        {"data": {"name": "legend"}, "transform": [{"filter": "datum.panel === 'BM' && datum.temp === '25/20'"}], "mark": {"type": "text", "align": "left", "baseline": "middle", "fontSize": 19, "color": "black"}, "encoding": {"x": {"datum": 3.12, "type": "quantitative", "axis": null}, "y": {"datum": -0.4, "type": "quantitative", "axis": null}, "text": {"field": "entry"}}}
      ]
    },
    {
      "width": 301, "height": 282,
      "resolve": {"axis": {"x": "independent", "y": "independent"}},
      "layer": [
        {
          "data": {"name": "curves"},
          "transform": [{"filter": "datum.panel === 'CM'"}],
          "mark": {"type": "line", "color": "black", "strokeWidth": 1.4, "interpolate": "monotone"},
          "encoding": {
            "x": {"field": "t", "type": "quantitative", "scale": {"domain": [-0.46, 12.97], "nice": false, "zero": false}, "axis": {"orient": "top", "labels": false, "ticks": false, "title": "CM", "titleX": 285, "titleY": 34, "titleAlign": "right", "titleBaseline": "alphabetic", "titleFontSize": 21}},
            "y": {"field": "N", "type": "quantitative", "scale": {"domain": [-5, 80], "nice": false, "zero": false}, "axis": {"orient": "right", "values": [0, 10, 20, 30, 40, 50, 60, 70, 80], "labels": false, "ticks": false, "title": null}},
            "strokeDash": {"field": "temp", "type": "nominal", "scale": {"domain": ["15/10", "20/15", "25/20"], "range": [[1, 0], [10, 5], [1.5, 4]]}, "legend": null}
          }
        },
        {
          "data": {"name": "points"},
          "transform": [{"filter": "datum.panel === 'CM'"}],
          "mark": {"type": "point", "filled": true, "stroke": "black", "strokeWidth": 1, "opacity": 1},
          "encoding": {
            "x": {"field": "t", "type": "quantitative", "axis": {"orient": "bottom", "values": [0, 2, 4, 6, 8, 10, 12], "title": null, "tickSize": 5, "labelFontSize": 21, "labelPadding": 17, "labelFlush": false, "labelOverlap": false}},
            "y": {"field": "N", "type": "quantitative", "axis": {"orient": "left", "values": [0, 10, 20, 30, 40, 50, 60, 70, 80], "labels": false, "tickSize": 4, "offset": -4, "title": null}},
            "size": {"field": "temp", "type": "nominal", "scale": {"domain": ["15/10", "20/15", "25/20"], "range": [60, 60, 85]}, "legend": null},
            "shape": {"field": "temp", "type": "nominal", "scale": {"domain": ["15/10", "20/15", "25/20"], "range": ["circle", "circle", "triangle-down"]}, "legend": null},
            "fill": {"field": "temp", "type": "nominal", "scale": {"domain": ["15/10", "20/15", "25/20"], "range": ["black", "white", "black"]}, "legend": null}
          }
        },
        {"data": {"name": "legend"}, "transform": [{"filter": "datum.panel === 'CM' && datum.temp === '15/10'"}], "mark": {"type": "text", "text": "N\u2080\u00a0\u00a0\u00a0\u00a0\u00a0\u00a0\u00a0\u00a0\u00a0\u00a0k\u2080", "fontStyle": "italic", "align": "left", "baseline": "middle", "fontSize": 19, "color": "black"}, "encoding": {"x": {"datum": 7.39, "type": "quantitative", "axis": null}, "y": {"datum": 23.6, "type": "quantitative", "axis": null}}},
        {"data": {"name": "legend"}, "transform": [{"filter": "datum.panel === 'CM' && datum.temp === '15/10'"}], "mark": {"type": "point", "shape": "M-1.1,0H-0.35M0.35,0H1.1M-0.35,0A0.35,0.35,0,1,1,0.35,0A0.35,0.35,0,1,1,-0.35,0Z", "size": 400, "filled": true, "fill": "black", "stroke": "black", "strokeWidth": 1.1, "opacity": 1}, "encoding": {"x": {"datum": 2.26, "type": "quantitative", "axis": null}, "y": {"datum": 14.6, "type": "quantitative", "axis": null}}},
        {"data": {"name": "legend"}, "transform": [{"filter": "datum.panel === 'CM' && datum.temp === '20/15'"}], "mark": {"type": "point", "shape": "M-1.1,0H-0.5M0.5,0H0.85M-0.35,0A0.35,0.35,0,1,1,0.35,0A0.35,0.35,0,1,1,-0.35,0Z", "size": 400, "filled": true, "fill": "white", "stroke": "black", "strokeWidth": 1.1, "opacity": 1}, "encoding": {"x": {"datum": 2.26, "type": "quantitative", "axis": null}, "y": {"datum": 6.9, "type": "quantitative", "axis": null}}},
        {"data": {"name": "legend"}, "transform": [{"filter": "datum.panel === 'CM' && datum.temp === '25/20'"}], "mark": {"type": "point", "shape": "M-1.1,0H-0.95M-0.75,0H-0.6M0.6,0H0.75M0.95,0H1.1M-0.4,-0.3L0.4,-0.3L0,0.35Z", "size": 400, "filled": true, "fill": "black", "stroke": "black", "strokeWidth": 1.1, "opacity": 1}, "encoding": {"x": {"datum": 2.26, "type": "quantitative", "axis": null}, "y": {"datum": -0.4, "type": "quantitative", "axis": null}}},
        {"data": {"name": "legend"}, "transform": [{"filter": "datum.panel === 'CM' && datum.temp === '15/10'"}], "mark": {"type": "text", "align": "left", "baseline": "middle", "fontSize": 19, "color": "black"}, "encoding": {"x": {"datum": 2.99, "type": "quantitative", "axis": null}, "y": {"datum": 14.6, "type": "quantitative", "axis": null}, "text": {"field": "entry"}}},
        {"data": {"name": "legend"}, "transform": [{"filter": "datum.panel === 'CM' && datum.temp === '20/15'"}], "mark": {"type": "text", "align": "left", "baseline": "middle", "fontSize": 19, "color": "black"}, "encoding": {"x": {"datum": 2.99, "type": "quantitative", "axis": null}, "y": {"datum": 6.9, "type": "quantitative", "axis": null}, "text": {"field": "entry"}}},
        {"data": {"name": "legend"}, "transform": [{"filter": "datum.panel === 'CM' && datum.temp === '25/20'"}], "mark": {"type": "text", "align": "left", "baseline": "middle", "fontSize": 19, "color": "black"}, "encoding": {"x": {"datum": 2.99, "type": "quantitative", "axis": null}, "y": {"datum": -0.4, "type": "quantitative", "axis": null}, "text": {"field": "entry"}}}
      ]
    }
  ],
  "spacing": 0,
  "bounds": "flush",
  "resolve": {"scale": {"shape": "independent", "fill": "independent", "size": "independent", "strokeDash": "independent"}},
  "config": {
    "font": "Liberation Sans",
    "view": {"stroke": "black", "strokeWidth": 1},
    "axis": {"grid": false, "domain": false, "tickColor": "black", "tickWidth": 1, "labelColor": "black", "titleColor": "black", "titleFontWeight": "normal", "labelFont": "Liberation Sans", "titleFont": "Liberation Sans"},
    "text": {"font": "Liberation Sans"}
  }
}
